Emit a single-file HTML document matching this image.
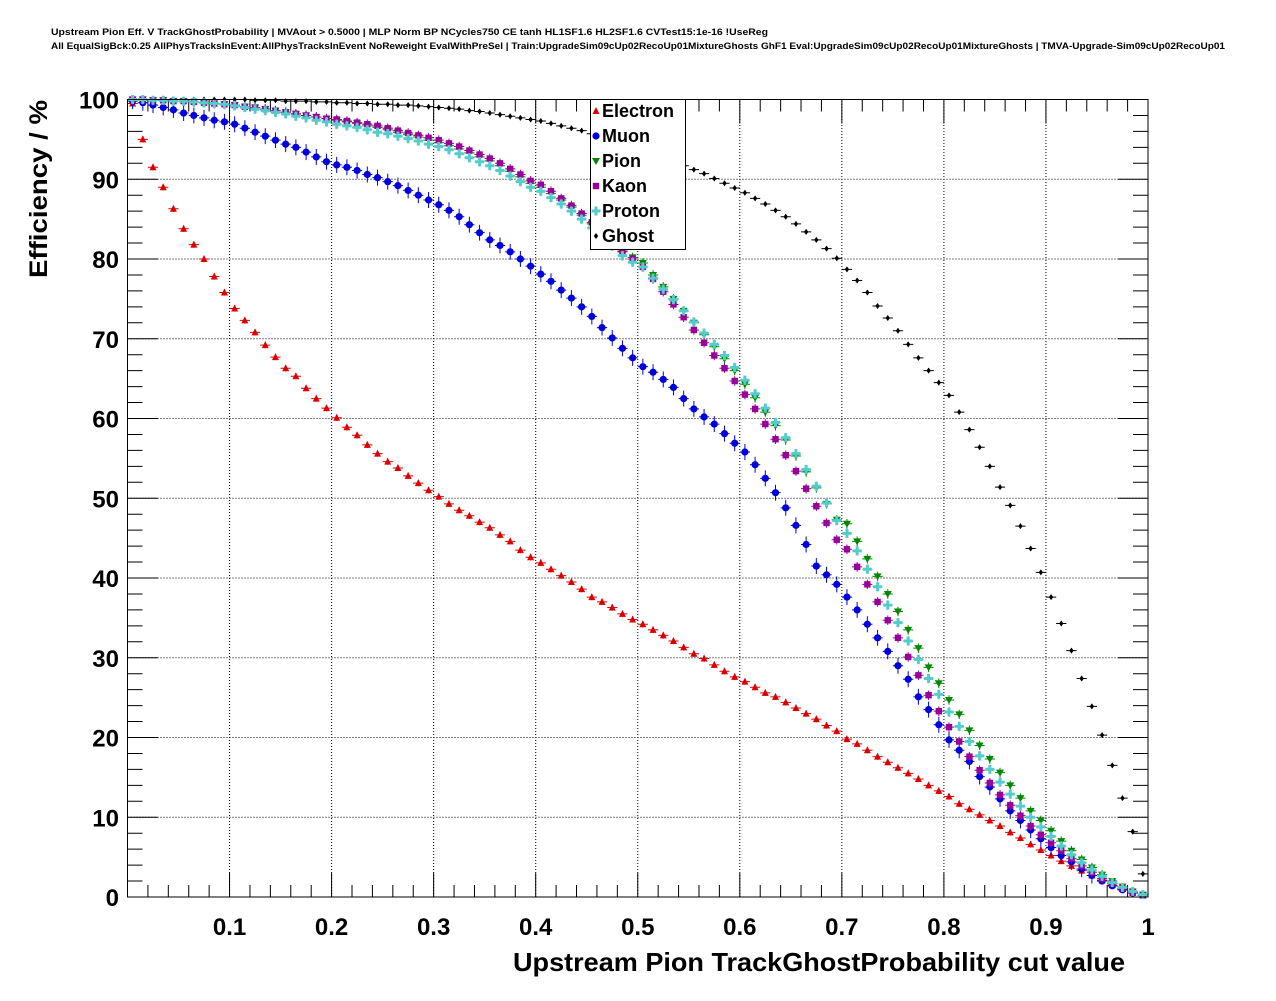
<!DOCTYPE html>
<html><head><meta charset="utf-8"><style>
body{margin:0;background:#fff;}
svg text{font-family:"Liberation Sans",sans-serif;}
</style></head><body>
<svg id="chart" width="1276" height="996" viewBox="0 0 1276 996" xmlns="http://www.w3.org/2000/svg">
<rect width="1276" height="996" fill="#fff"/>
<text x="51" y="35" font-size="9.5" font-weight="bold" textLength="717" lengthAdjust="spacingAndGlyphs">Upstream Pion Eff. V TrackGhostProbability | MVAout &gt; 0.5000 | MLP Norm BP NCycles750 CE tanh HL1SF1.6 HL2SF1.6 CVTest15:1e-16 !UseReg</text>
<text x="51" y="49" font-size="9.5" font-weight="bold" textLength="1174" lengthAdjust="spacingAndGlyphs">All EqualSigBck:0.25 AllPhysTracksInEvent:AllPhysTracksInEvent NoReweight EvalWithPreSel | Train:UpgradeSim09cUp02RecoUp01MixtureGhosts GhF1 Eval:UpgradeSim09cUp02RecoUp01MixtureGhosts | TMVA-Upgrade-Sim09cUp02RecoUp01</text>
<g id="grid"></g>
<g id="axes"></g>
<g id="marks"></g>
<rect x="127.5" y="99.5" width="1020.5" height="797.5" fill="none" stroke="#000" stroke-width="1"/>
<text transform="translate(47,278) rotate(-90)" font-size="25" font-weight="bold" textLength="178" lengthAdjust="spacingAndGlyphs">Efficiency / %</text>
<text x="513" y="971" font-size="26" font-weight="bold" textLength="612" lengthAdjust="spacingAndGlyphs">Upstream Pion TrackGhostProbability cut value</text>
<g id="legend">
<rect x="590.5" y="99.5" width="95" height="150" fill="#fff" stroke="#000"/>
</g>
</svg>
<script>
const electron=[99.5,95,91.5,89,86.3,83.8,81.8,80,77.8,75.8,73.8,72.3,70.8,69.2,67.7,66.3,65.3,63.8,62.5,61.3,60.1,58.9,57.9,56.7,55.6,54.6,53.8,52.8,51.9,51.0,50.2,49.3,48.5,47.8,47.0,46.3,45.4,44.6,43.5,42.6,41.9,41.1,40.3,39.5,38.6,37.6,37.0,36.3,35.5,34.8,34.2,33.5,32.8,32.1,31.3,30.5,29.9,29.1,28.3,27.6,27.0,26.3,25.6,25.1,24.4,23.7,23.0,22.3,21.5,20.8,19.8,19.2,18.4,17.6,16.9,16.2,15.5,14.8,14.0,13.3,12.6,11.7,11.0,10.3,9.6,8.9,8.1,7.4,6.6,5.9,5.2,4.5,3.9,3.3,2.7,2.1,1.5,1.0,0.5,0.2];
const muon=[99.8,99.6,99.3,99.0,98.7,98.3,98.0,97.7,97.4,97.2,96.9,96.4,95.9,95.4,94.9,94.4,94.0,93.4,92.8,92.2,91.8,91.5,91.1,90.6,90.2,89.7,89.2,88.6,88.0,87.4,86.8,86.1,85.3,84.3,83.3,82.4,81.7,80.9,80.0,79.1,78.1,77.2,76.1,75.1,74.0,72.8,71.4,70.1,68.8,67.6,66.5,65.8,64.9,63.9,62.5,61.2,60.2,59.3,58.1,56.9,55.8,54.2,52.5,50.7,48.8,46.6,44.2,41.5,40.4,39.2,37.6,36.0,34.2,32.5,30.8,29.0,27.3,25.1,23.5,21.6,19.7,18.4,17.0,15.1,13.8,12.3,10.8,9.6,8.4,7.3,6.2,5.2,4.4,3.5,2.7,2.0,1.4,0.9,0.5,0.2];
const pion=[100,100,99.9,99.9,99.8,99.8,99.7,99.6,99.5,99.4,99.3,99.1,99.0,98.8,98.6,98.4,98.2,98.0,97.8,97.6,97.4,97.2,97.0,96.7,96.5,96.2,95.9,95.6,95.3,94.9,94.6,94.2,93.8,93.3,92.8,92.3,91.7,91.0,90.3,89.5,89.0,88.2,87.4,86.5,85.5,84.4,83.3,82.1,80.9,80.2,79.5,78.0,76.5,75.0,73.5,72.0,70.5,69.0,67.5,66.0,64.3,62.6,60.8,59.1,57.3,55.3,53.3,51.3,49.3,47.3,46.8,44.6,42.4,40.2,38.0,35.8,33.5,31.2,28.8,26.8,24.7,22.9,20.9,19.0,17.3,15.6,14.0,12.4,10.8,9.6,8.3,7.0,5.8,4.7,3.7,2.8,2.0,1.3,0.7,0.3];
const kaon=[100,100,99.9,99.9,99.8,99.8,99.7,99.6,99.5,99.4,99.3,99.1,99.0,98.8,98.6,98.4,98.2,98.0,97.8,97.6,97.5,97.3,97.1,96.9,96.7,96.4,96.1,95.8,95.5,95.2,94.9,94.5,94.1,93.6,93.1,92.6,92.0,91.3,90.6,89.8,89.3,88.5,87.6,86.7,85.7,84.6,83.4,82.2,81.0,80.0,79.0,77.5,75.9,74.3,72.7,71.1,69.5,67.9,66.3,64.7,63.0,61.2,59.3,57.4,55.4,53.4,51.2,49.0,46.9,44.8,43.6,41.4,39.2,37.0,34.7,32.5,30.1,27.8,25.3,23.3,21.3,19.5,17.6,15.9,14.3,12.8,11.5,10.2,8.9,7.8,6.8,5.8,4.8,3.9,3.1,2.3,1.7,1.1,0.6,0.2];
const proton=[100,100,99.9,99.9,99.8,99.8,99.7,99.6,99.5,99.4,99.2,99.0,98.8,98.6,98.4,98.2,97.9,97.7,97.4,97.2,96.9,96.7,96.5,96.2,95.9,95.7,95.4,95.1,94.8,94.4,94.1,93.7,93.2,92.7,92.2,91.7,91.1,90.4,89.7,89.0,88.5,87.7,86.9,86.0,85.0,83.9,82.8,81.6,80.4,79.6,79.0,77.6,76.2,74.9,73.5,72.1,70.7,69.3,67.9,66.4,64.8,63.1,61.3,59.5,57.6,55.6,53.6,51.5,49.4,47.2,45.6,43.4,41.1,38.9,36.6,34.4,32.1,29.8,27.4,25.4,23.2,21.4,19.5,17.7,16.0,14.4,12.9,11.4,10.0,8.8,7.6,6.4,5.3,4.3,3.4,2.6,1.8,1.2,0.7,0.3];
const ghost=[100,100,100,100,100,100,100,100,100,100,100,100,99.9,99.9,99.9,99.8,99.8,99.8,99.7,99.7,99.6,99.6,99.5,99.5,99.4,99.4,99.3,99.3,99.2,99.1,99.0,98.9,98.8,98.6,98.5,98.3,98.1,97.9,97.7,97.5,97.3,97.0,96.7,96.4,96.1,95.7,95.3,94.9,94.5,94.0,93.5,93.1,92.7,92.2,91.7,91.2,90.7,90.1,89.5,88.9,88.3,87.6,86.9,86.1,85.3,84.4,83.4,82.4,81.3,80.1,78.7,77.3,75.8,74.1,72.6,71.0,69.3,67.6,66.0,64.5,62.9,60.8,58.6,56.4,54.0,51.4,49.1,46.5,43.7,40.7,37.6,34.3,30.9,27.4,23.9,20.3,16.5,12.4,8.2,2.9];
const xTicks=[0.1,0.2,0.3,0.4,0.5,0.6,0.7,0.8,0.9,1];
const xTickLabels=["0.1","0.2","0.3","0.4","0.5","0.6","0.7","0.8","0.9","1"];
const yTicks=[0,10,20,30,40,50,60,70,80,90,100];
const NS='http://www.w3.org/2000/svg';
const X0=127.5,X1=1148,Y0=897,Y1=99.5;
const xs=v=>X0+v*(X1-X0);
const ys=v=>Y0-v/100*(Y0-Y1);
function mk(tag,attrs,parent){const e=document.createElementNS(NS,tag);for(const k in attrs)e.setAttribute(k,attrs[k]);parent.appendChild(e);return e;}
const grid=document.getElementById('grid'),axes=document.getElementById('axes'),marks=document.getElementById('marks');
xTicks.forEach((t,i)=>{
 if(t<1){const g=mk('line',{x1:xs(t),x2:xs(t),y1:Y0,y2:Y1,stroke:'#000','stroke-width':1,'stroke-dasharray':'1,2'},grid);
 
 }
 const l=mk('text',{x:xs(t),y:935,'text-anchor':'middle','font-size':24,'font-weight':'bold'},axes);
 l.textContent=xTickLabels[i];
 
 
});
yTicks.forEach(t=>{
 if(t>0&&t<100){const g=mk('line',{x1:X0,x2:X1,y1:ys(t),y2:ys(t),stroke:'#000','stroke-width':1,'stroke-dasharray':'1,2'},grid);
 
 }
 const l=mk('text',{x:119,y:ys(t)+9,'text-anchor':'end','font-size':24,'font-weight':'bold'},axes);
 l.textContent=String(t);
 
 
});
let tp='';
for(let i=1;i<50;i++){const v=i*0.02,big=(i%5===0),L=big?24:12,x=xs(v);tp+=`M${x},${Y0}V${Y0-L}M${x},${Y1}V${Y1+L}`;}
for(let i=1;i<50;i++){const v=i*2,big=(i%5===0),L=big?30:15,y=ys(v);tp+=`M${X0},${y}H${X0+L}M${X1},${y}H${X1-L}`;}
const ticks=mk('path',{d:tp,stroke:'#000','stroke-width':1,fill:'none'},axes);


function marker(type,cx,cy,col,p){
 let e;
 if(type==='tu')e=mk('polygon',{points:`${cx},${cy-4} ${cx-3.5},${cy+3} ${cx+3.5},${cy+3}`,fill:col},p);
 else if(type==='td')e=mk('polygon',{points:`${cx},${cy+4} ${cx-4},${cy-3} ${cx+4},${cy-3}`,fill:col},p);
 else if(type==='c')e=mk('circle',{cx:cx,cy:cy,r:3.6,fill:col},p);
 else if(type==='s')e=mk('rect',{x:cx-3.2,y:cy-3.2,width:6.4,height:6.4,fill:col},p);
 else if(type==='p')e=mk('path',{d:`M${cx-4.5},${cy-1.5}h3v-3h3v3h3v3h-3v3h-3v-3h-3z`,fill:col},p);
 else e=mk('polygon',{points:`${cx},${cy-3} ${cx-2.2},${cy} ${cx},${cy+3} ${cx+2.2},${cy}`,fill:col},p);
 return e;
}
const series=[
 {name:'electron',vals:electron,col:'#dd0000',m:'tu',err:0.4},
 {name:'ghost',vals:ghost,col:'#000',m:'d',err:0.3},
 {name:'muon',vals:muon,col:'#0000dd',m:'c',err:1.0},
 {name:'pion',vals:pion,col:'#008800',m:'td',err:0.6},
 {name:'kaon',vals:kaon,col:'#990099',m:'s',err:0.6},
 {name:'proton',vals:proton,col:'#55cccc',m:'p',err:0.6}
];
series.forEach(s=>{
 const g=mk('g',{},marks);
 
 
 s.vals.forEach((v,i)=>{
  const x=(i+0.5)/100,cx=xs(x),cy=ys(v);
  const e=Math.min(s.err,Math.max(0.15,s.err*(v>2?1:0.4)));
  const eb=mk('path',{d:`M${xs(x-0.005)},${cy}H${xs(x+0.005)}M${cx},${ys(Math.min(100,v+e))}V${ys(Math.max(0,v-e))}`,stroke:s.col,'stroke-width':1},g);
  
  
  const m=marker(s.m,cx,cy,s.col,g);
  
  
 });
});
const leg=document.getElementById('legend');
const legNames=['Electron','Muon','Pion','Kaon','Proton','Ghost'];
const legIdx=[0,2,3,4,5,1];
legNames.forEach((n,i)=>{
 const s=series[legIdx[i]],y=111+i*25;
 const m=marker(s.m,596,y,s.col,leg);
 
 
 const t=mk('text',{x:602,y:y+6,'font-size':18,'font-weight':'bold'},leg);
 t.textContent=n;
 
 
});
</script>
</body></html>
